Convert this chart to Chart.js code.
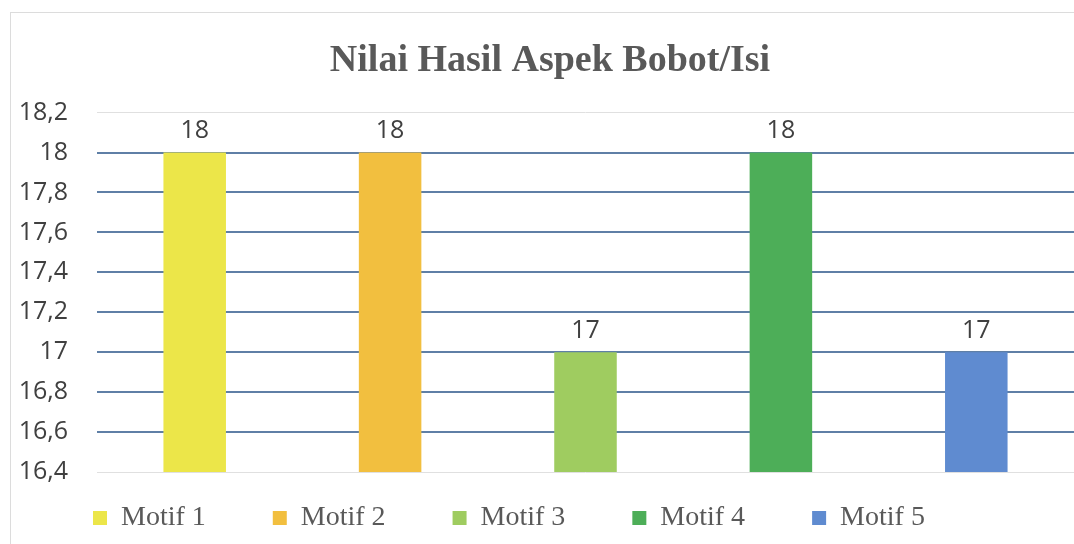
<!DOCTYPE html>
<html>
<head>
<meta charset="utf-8">
<script src="https://cdn.jsdelivr.net/npm/chart.js@4"></script>
<style>
  body { margin: 0; background: #fff; overflow: hidden; }
  #bingkai { position: absolute; left: 10px; top: 12px; width: 1200px; height: 700px; border: 1px solid #dcdcdc; }
  #myChart { position: absolute; left: 0; top: 0; }
</style>
</head>
<body>
<div id="bingkai"></div>
<canvas id="myChart" width="1074" height="544"></canvas>
<script>
const motif = ["Motif 1", "Motif 2", "Motif 3", "Motif 4", "Motif 5"];
const nilai = [18, 18, 17, 18, 17];
const warna = ["#ECE649", "#F2BF3F", "#9FCC60", "#4DAE58", "#5F8BD0"];
const sumbuMin = 16.4;
const sumbuMax = 18.2;
const langkah = 0.2;

// angka di atas batang
const labelNilai = {
    id: 'labelNilai',
    afterDatasetsDraw(chart) {
        const ctx = chart.ctx;
        ctx.save();
        ctx.font = '25px "Open Sans"';
        ctx.fillStyle = '#404040';
        ctx.textAlign = 'center';
        ctx.textBaseline = 'bottom';
        chart.getDatasetMeta(0).data.forEach((bar, i) => {
            ctx.fillText(chart.data.datasets[0].data[i], bar.x, bar.y - 9);
        });
        ctx.restore();
    }
};

// legenda diturunkan ke bawah area grafik, label sumbu y jangan terpotong
const geserLegenda = {
    id: 'geserLegenda',
    afterLayout(chart) {
        const lg = chart.legend;
        lg.top = lg.bottom - lg.options.labels.padding - 36;
        chart.scales.y.left = 0;
    }
};

new Chart(document.getElementById("myChart"), {
    type: 'bar',
    data: {
        labels: motif,
        datasets: [{
            label: "Nilai",
            backgroundColor: warna,
            data: nilai,
            barPercentage: 0.8,
            categoryPercentage: 0.4,
        }]
    },
    plugins: [labelNilai, geserLegenda],
    options: {
        responsive: false,
        animation: false,
        layout: {
            padding: { left: 26, right: 0, top: 0, bottom: 4 },
        },
        scales: {
            x: {
                display: false,
            },
            y: {
                min: sumbuMin,
                max: sumbuMax,
                border: { display: false },
                grid: {
                    drawTicks: false,
                    color: c => (c.tick && (c.tick.value <= sumbuMin + 0.01 || c.tick.value >= sumbuMax - 0.01)) ? '#e0e0e0' : '#5f7fa6',
                    lineWidth: c => (c.tick && (c.tick.value <= sumbuMin + 0.01 || c.tick.value >= sumbuMax - 0.01)) ? 1 : 2,
                },
                ticks: {
                    stepSize: langkah,
                    padding: 29,
                    color: '#404040',
                    font: { family: '"Open Sans"', size: 25 },
                    callback: v => String(Math.round(v * 10) / 10).replace('.', ','),
                },
                afterFit: scale => { scale.width = 71; },
            }
        },
        plugins: {
            title: {
                display: true,
                text: 'Nilai Hasil Aspek Bobot/Isi',
                color: '#595959',
                font: { family: '"Liberation Serif"', size: 38, weight: 'bold' },
                padding: { top: 38, bottom: 29 },
            },
            tooltip: { enabled: false },
            legend: {
                display: true,
                position: 'bottom',
                align: 'start',
                maxHeight: 68,
                labels: {
                    boxWidth: 14,
                    boxHeight: 14,
                    padding: 67,
                    color: '#595959',
                    font: { family: '"Liberation Serif"', size: 28 },
                    generateLabels: chart => chart.data.labels.map((l, i) => ({
                        text: l,
                        fillStyle: warna[i],
                        strokeStyle: warna[i],
                        lineWidth: 0,
                        hidden: false,
                        index: i,
                        fontColor: '#595959',
                    })),
                }
            }
        }
    }
});
</script>
</body>
</html>
